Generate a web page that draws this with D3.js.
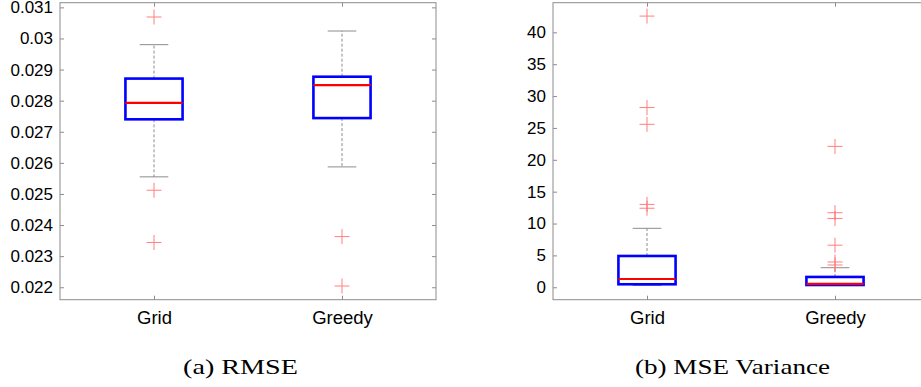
<!DOCTYPE html>
<html>
<head>
<meta charset="utf-8">
<script src="https://cdn.jsdelivr.net/npm/d3@7"></script>
<style>
  body { margin: 0; background: #fff; }
  svg { display: block; }
  .tick text { font-family: "Liberation Sans", Arial, sans-serif; fill: #000; }
  .caption { font-family: "Liberation Serif", "Times New Roman", serif; font-size: 21px; fill: #000; }
</style>
</head>
<body>
<div id="chart"></div>
<script>
const categories = ["Grid", "Greedy"];

// (a) RMSE
const rmseLow = [0.02555, 0.02587];
const rmseQ1 = [0.02740, 0.02744];
const rmseMedian = [0.02793, 0.02850];
const rmseQ3 = [0.02871, 0.02877];
const rmseHigh = [0.02980, 0.03024];
const rmseOutliers = [[0.03069, 0.02512, 0.02344], [0.02363, 0.02204]];
const rmseTicks = [0.022, 0.023, 0.024, 0.025, 0.026, 0.027, 0.028, 0.029, 0.03, 0.031];

// (b) MSE Variance
const varLow = [0.3, 0.3];
const varQ1 = [0.47, 0.36];
const varMedian = [1.30, 0.52];
const varQ3 = [4.91, 1.62];
const varHigh = [9.25, 3.07];
const varOutliers = [[42.55, 28.2, 25.57, 13.0, 12.4], [22.1, 11.7, 10.8, 6.6, 3.97, 3.5]];
const varTicks = [0, 5, 10, 15, 20, 25, 30, 35, 40];

const svg = d3.select("#chart").append("svg")
  .attr("width", 921)
  .attr("height", 387);

const plotW = 376, plotTop = 2.7, plotBottom = 299.7;

function drawPanel(left, yDomain, ticks, low, q1, med, q3, high, outliers, caption, capX, capLen) {
  const g = svg.append("g").attr("transform", `translate(${left},0)`);

  const x = d3.scaleLinear().domain([0.5, 2.5]).range([0, plotW]);
  const y = d3.scaleLinear().domain(yDomain).range([plotBottom, plotTop]);

  // frame
  g.append("rect")
    .attr("x", 0).attr("y", plotTop)
    .attr("width", plotW).attr("height", plotBottom - plotTop)
    .attr("fill", "none").attr("stroke", "#8c8c8c").attr("stroke-width", 1);

  const fmt = d => String(+d.toFixed(3));

  const yl = g.append("g")
    .call(d3.axisLeft(y).tickValues(ticks).tickFormat(fmt).tickSizeInner(-4).tickSizeOuter(0).tickPadding(7));
  const yr = g.append("g").attr("transform", `translate(${plotW},0)`)
    .call(d3.axisRight(y).tickValues(ticks).tickFormat("").tickSizeInner(-4).tickSizeOuter(0));
  const xb = g.append("g").attr("transform", `translate(0,${plotBottom})`)
    .call(d3.axisBottom(x).tickValues([1, 2]).tickFormat((d, i) => categories[i]).tickSizeInner(-4).tickSizeOuter(0).tickPadding(7));
  const xt = g.append("g").attr("transform", `translate(0,${plotTop})`)
    .call(d3.axisTop(x).tickValues([1, 2]).tickFormat("").tickSizeInner(-4).tickSizeOuter(0));

  [yl, yr, xb, xt].forEach(a => {
    a.select(".domain").remove();
    a.selectAll(".tick line").attr("stroke", "#8c8c8c");
  });
  yl.selectAll(".tick text").style("font-size", "17px");
  xb.selectAll(".tick text").style("font-size", "18.5px").attr("dy", "0.95em");

  const half = 0.152, cap = 0.076;

  categories.forEach((c, i) => {
    const cx = x(i + 1);
    // whiskers
    g.append("line")
      .attr("x1", cx).attr("x2", cx).attr("y1", y(q3[i])).attr("y2", y(high[i]))
      .attr("stroke", "#8c8c8c").attr("stroke-dasharray", "3,2");
    g.append("line")
      .attr("x1", cx).attr("x2", cx).attr("y1", y(q1[i])).attr("y2", y(low[i]))
      .attr("stroke", "#8c8c8c").attr("stroke-dasharray", "3,2");
    [high[i], low[i]].forEach(v => {
      g.append("line")
        .attr("x1", x(i + 1 - cap)).attr("x2", x(i + 1 + cap))
        .attr("y1", y(v)).attr("y2", y(v))
        .attr("stroke", "#8c8c8c");
    });
    // box
    g.append("rect")
      .attr("x", x(i + 1 - half)).attr("y", y(q3[i]))
      .attr("width", x(i + 1 + half) - x(i + 1 - half))
      .attr("height", y(q1[i]) - y(q3[i]))
      .attr("fill", "none").attr("stroke", "#0000ff").attr("stroke-width", 2.6);
    g.append("line")
      .attr("x1", x(i + 1 - half)).attr("x2", x(i + 1 + half))
      .attr("y1", y(med[i])).attr("y2", y(med[i]))
      .attr("stroke", "#ff0000").attr("stroke-width", 2.2);
    // outliers
    outliers[i].forEach(v => {
      const p = g.append("g").attr("transform", `translate(${cx},${y(v)})`)
        .attr("stroke", "#ff6b6b").attr("stroke-width", 1).attr("opacity", 0.85);
      p.append("line").attr("x1", -7.5).attr("x2", 7.5).attr("y1", 0).attr("y2", 0);
      p.append("line").attr("x1", 0).attr("x2", 0).attr("y1", -7.5).attr("y2", 7.5);
    });
  });

  svg.append("text")
    .attr("class", "caption")
    .attr("x", capX).attr("y", 374)
    .attr("text-anchor", "middle")
    .attr("textLength", capLen)
    .attr("lengthAdjust", "spacingAndGlyphs")
    .text(caption);
}

drawPanel(60, [0.0216, 0.03115], rmseTicks, rmseLow, rmseQ1, rmseMedian, rmseQ3, rmseHigh, rmseOutliers,
  "(a) RMSE", 240.5, 115);
drawPanel(553, [-1.95, 44.65], varTicks, varLow, varQ1, varMedian, varQ3, varHigh, varOutliers,
  "(b) MSE Variance", 732.5, 195);
</script>
</body>
</html>
